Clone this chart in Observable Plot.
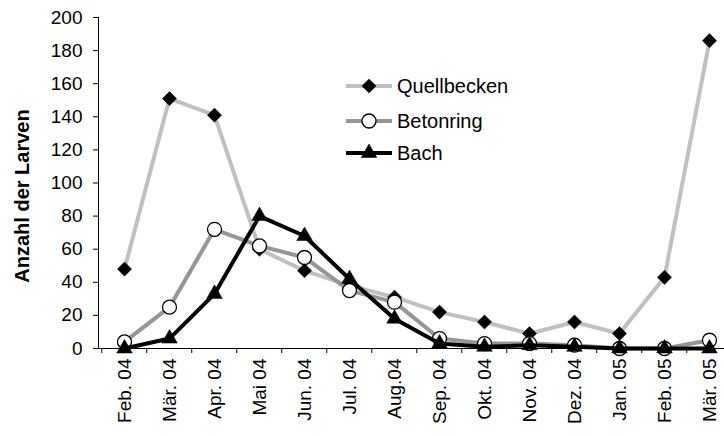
<!DOCTYPE html>
<html>
<head>
<meta charset="utf-8">
<script src="https://cdn.jsdelivr.net/npm/d3@7"></script>
<script src="https://cdn.jsdelivr.net/npm/@observablehq/plot@0.6"></script>
<style>
  html, body { margin: 0; padding: 0; background: #fff; }
  #chart { width: 724px; height: 436px; overflow: hidden; }
</style>
</head>
<body>
<div id="chart"></div>
<script>
// Monthly larva counts at three sampling sites
const months = ["Feb. 04", "Mär. 04", "Apr. 04", "Mai 04", "Jun. 04", "Jul. 04", "Aug.04",
                "Sep. 04", "Okt. 04", "Nov. 04", "Dez. 04", "Jan. 05", "Feb. 05", "Mär. 05"];
const quellbecken = [48, 151, 141, 60, 47, 38, 31, 22, 16, 9, 16, 9, 43, 186];
const betonring   = [4, 25, 72, 62, 55, 35, 28, 6, 3, 3, 2, 0, 0, 5];
const bach        = [0, 6, 33, 80, 68, 42, 18, 3, 1, 2, 1, 0, 0, 0];
const yTicks = [0, 20, 40, 60, 80, 100, 120, 140, 160, 180, 200];
const yTitle = "Anzahl der Larven";

const seriesNames = ["Quellbecken", "Betonring", "Bach"];
const seriesValues = [quellbecken, betonring, bach];

// Drawing style of each series: line colour and marker
const styles = {
  Quellbecken: {stroke: "#c0c0c0", symbol: "diamond2", r: 6.4, fill: "black", dotStroke: "black", sw: 0.5},
  Betonring:   {stroke: "#969696", symbol: "circle",   r: 7,   fill: "white", dotStroke: "black", sw: 1.3},
  Bach:        {stroke: "black",   symbol: "triangle", r: 5.8, fill: "black", dotStroke: "black", sw: 0.5}
};
const lineWidth = 4;

const font = "'Liberation Sans', Arial, sans-serif";

const seriesMarks = seriesNames.flatMap((name, i) => {
  const rows = months.map((m, j) => ({month: m, value: seriesValues[i][j], series: name}));
  const s = styles[name];
  return [
    Plot.line(rows, {x: "month", y: "value", stroke: s.stroke, strokeWidth: lineWidth, strokeLinejoin: "miter"}),
    Plot.dot(rows, {x: "month", y: "value", symbol: () => s.symbol, r: s.r, fill: s.fill,
                    stroke: s.dotStroke, strokeWidth: s.sw})
  ];
});

const plot = Plot.plot({
  width: 724,
  height: 436,
  marginLeft: 98,
  marginRight: 0,
  marginTop: 17,
  marginBottom: 88,
  style: {fontFamily: font, fontSize: "19px", color: "black", background: "white"},
  x: {type: "point", domain: months, range: [98, 735], padding: 0.5},
  y: {domain: [0, 200]},
  symbol: {type: "identity"},
  marks: [
    Plot.axisY({ticks: yTicks, tickSize: 5, tickPadding: 11, fontSize: 19, label: null, stroke: "black", strokeOpacity: 1}),
    Plot.frame({anchor: "left", stroke: "black"}),
    Plot.axisX({tickSize: 0, tickRotate: -90, tickPadding: 10, fontSize: 19, label: null}),
    Plot.axisX({text: null, tickSize: 5, dx: -22.75, label: null, stroke: "black", strokeOpacity: 1}),
    ...seriesMarks,
    Plot.ruleY([0], {stroke: "black", strokeWidth: 1})
  ]
});

document.getElementById("chart").appendChild(plot);

// Y axis title and the in-plot legend
const svg = d3.select(plot);
svg.append("text")
  .attr("transform", "translate(29,196) rotate(-90)")
  .attr("text-anchor", "middle")
  .attr("font-family", font)
  .attr("font-weight", "bold")
  .attr("font-size", 20)
  .text(yTitle);

const legendRows = [86, 121, 153];
const legend = svg.append("g")
  .attr("font-family", font)
  .attr("font-size", 20)
  .attr("text-anchor", "start");
seriesNames.forEach((name, i) => {
  const s = styles[name];
  const y = legendRows[i];
  legend.append("line")
    .attr("x1", 346).attr("x2", 392).attr("y1", y).attr("y2", y)
    .attr("stroke", s.stroke).attr("stroke-width", lineWidth);
  const symType = {diamond2: d3.symbolDiamond2, circle: d3.symbolCircle, triangle: d3.symbolTriangle}[s.symbol];
  legend.append("path")
    .attr("transform", `translate(369,${y})`)
    .attr("d", d3.symbol(symType, Math.PI * s.r * s.r)())
    .attr("fill", s.fill).attr("stroke", s.dotStroke).attr("stroke-width", s.sw);
  legend.append("text")
    .attr("x", 397).attr("y", y).attr("dy", "0.35em")
    .attr("text-anchor", "start")
    .text(name);
});
</script>
</body>
</html>
